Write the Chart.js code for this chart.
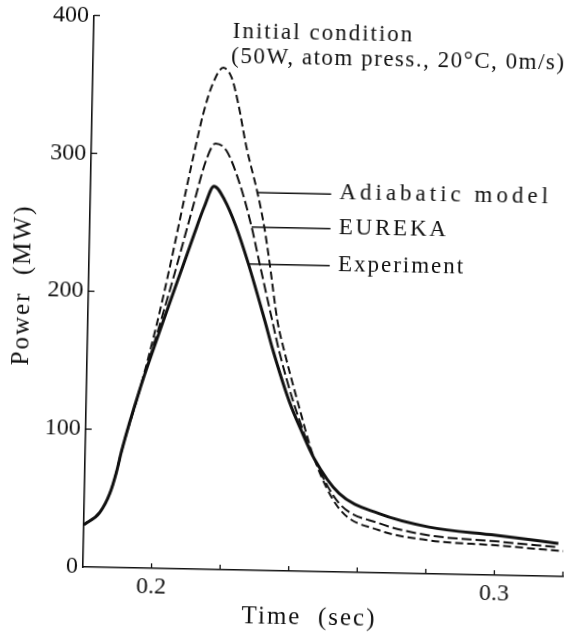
<!DOCTYPE html>
<html>
<head>
<meta charset="utf-8">
<script src="https://cdn.jsdelivr.net/npm/chart.js@4.4.1/dist/chart.umd.min.js"></script>
<style>
  html, body { margin: 0; padding: 0; background: #fff; }
  #wrap { width: 572px; height: 633px; }
  /* a figura original está levemente girada (scan) */
  #grafico { transform: rotate(1.15deg); }
</style>
</head>
<body>
<div id="wrap"><canvas id="grafico" width="572" height="633"></canvas></div>
<script>
// Dados (tempo em s, potência em MW)
const expTempo = [0.18, 0.1846, 0.1874, 0.1892, 0.1906, 0.1956, 0.2018, 0.2073, 0.2105, 0.2133, 0.2160, 0.2192, 0.2225, 0.2265, 0.2315, 0.234, 0.2392, 0.2429, 0.2468, 0.2543, 0.266, 0.2806, 0.3002, 0.3185];
const expPotencia = [30.6, 39.8, 53.6, 69, 84.7, 130, 178, 219, 243, 263, 278, 268, 250, 222, 182, 161, 123, 102, 82, 57, 43, 34, 29, 24];

const eurekaTempo = [0.18, 0.1846, 0.1874, 0.1892, 0.1906, 0.1956, 0.2009, 0.205, 0.2095, 0.2136, 0.2162, 0.2194, 0.2235, 0.2272, 0.2297, 0.2338, 0.236, 0.2405, 0.2468, 0.2543, 0.2661, 0.2807, 0.3002, 0.3185];
const eurekaPotencia = [30.6, 39.8, 53.6, 69, 84.7, 130, 176, 214, 258, 297, 309, 304, 280, 249, 223, 181, 159, 122, 82, 50, 36, 28, 24.6, 21.2];

const adiaTempo = [0.18, 0.1846, 0.1874, 0.1892, 0.1906, 0.1956, 0.2001, 0.2032, 0.2101, 0.2125, 0.215, 0.218, 0.2205, 0.2226, 0.2252, 0.2287, 0.2309, 0.2326, 0.2353, 0.2375, 0.242, 0.2468, 0.2544, 0.2661, 0.2807, 0.3002, 0.32];
const adiaPotencia = [30.6, 39.8, 53.6, 69, 84.7, 130, 177, 214, 303, 331, 352, 364, 357, 338, 307, 274, 249, 224, 181, 159, 120, 82, 46, 31, 24.4, 21.7, 18.4];

// Eixos
const xMarcados = [0.2, 0.3];
const yTicks = [0, 100, 200, 300, 400];

// Legendas com linha de chamada: ponto na curva (t, P)
const chamadas = [
  { texto: "Adiabatic model", t: 0.2287, p: 274, esp: 4 },
  { texto: "EUREKA", t: 0.2272, p: 249, esp: 2.8 },
  { texto: "Experiment", t: 0.2265, p: 222, esp: 2 }
];
const fimChamada = 0.2502;
const inicioTexto = 0.2526;

const condicao = ["Initial condition", "(50W, atom press., 20\u00B0C, 0m/s)"];

const pontos = (ts, ps) => ts.map((t, i) => ({ x: t, y: ps[i] }));

const fonte = '"Liberation Serif", "Times New Roman", serif';

const extras = {
  id: 'extras',
  afterDraw(chart) {
    const { ctx, chartArea: a, scales: { x, y } } = chart;
    ctx.save();
    ctx.strokeStyle = '#111';
    ctx.fillStyle = '#111';

    // marcas de escala para dentro
    ctx.lineWidth = 1.3;
    x.ticks.forEach(tk => {
      if (tk.value <= x.min + 1e-9) return;
      const px = x.getPixelForValue(tk.value);
      ctx.beginPath();
      ctx.moveTo(px, a.bottom);
      ctx.lineTo(px, a.bottom - 5);
      ctx.stroke();
    });
    y.ticks.forEach(tk => {
      if (tk.value === 0) return;
      const py = y.getPixelForValue(tk.value);
      ctx.beginPath();
      ctx.moveTo(a.left, py);
      ctx.lineTo(a.left + 6, py);
      ctx.stroke();
    });

    ctx.letterSpacing = '2px';
    ctx.font = '25px ' + fonte;
    ctx.textBaseline = 'middle';

    // títulos dos eixos
    ctx.textAlign = 'center';
    ctx.fillText('Time  (sec)', a.left + 0.473 * (a.right - a.left), 617);
    ctx.save();
    ctx.translate(22, (a.top + a.bottom) / 2 - 5);
    ctx.rotate(-Math.PI / 2);
    ctx.fillText('Power  (MW)', 0, 0);
    ctx.restore();

    // condição inicial
    ctx.textAlign = 'left';
    ctx.font = '23px ' + fonte;
    ctx.letterSpacing = '2px';
    ctx.fillText(condicao[0], 227, 33);
    ctx.letterSpacing = '1.5px';
    ctx.fillText(condicao[1], 226, 58);

    // linhas de chamada
    ctx.lineWidth = 1.5;
    const xFim = x.getPixelForValue(fimChamada);
    const xTxt = x.getPixelForValue(inicioTexto);
    chamadas.forEach(c => {
      const px = x.getPixelForValue(c.t);
      const py = y.getPixelForValue(c.p);
      ctx.beginPath();
      ctx.moveTo(px, py);
      ctx.lineTo(xFim, py);
      ctx.stroke();
      ctx.letterSpacing = c.esp + 'px';
      ctx.fillText(c.texto, xTxt, py - 1);
    });
    ctx.restore();
  }
};

const ctx = document.getElementById('grafico').getContext('2d');
new Chart(ctx, {
  type: 'line',
  data: {
    datasets: [
      {
        label: 'Adiabatic model',
        data: pontos(adiaTempo, adiaPotencia),
        borderColor: '#111',
        borderWidth: 2,
        borderDash: [8, 4],
        pointRadius: 0,
        cubicInterpolationMode: 'monotone',
        fill: false
      },
      {
        label: 'EUREKA',
        data: pontos(eurekaTempo, eurekaPotencia),
        borderColor: '#111',
        borderWidth: 2,
        borderDash: [10, 4],
        pointRadius: 0,
        cubicInterpolationMode: 'monotone',
        fill: false
      },
      {
        label: 'Experiment',
        data: pontos(expTempo, expPotencia),
        borderColor: '#111',
        borderWidth: 3,
        pointRadius: 0,
        cubicInterpolationMode: 'monotone',
        fill: false
      }
    ]
  },
  options: {
    responsive: false,
    animation: false,
    layout: { padding: { top: 15, right: 2, left: 0, bottom: 0 } },
    plugins: {
      legend: { display: false },
      tooltip: { enabled: false }
    },
    scales: {
      x: {
        type: 'linear',
        min: 0.18,
        max: 0.32,
        grid: { display: false, drawTicks: false },
        border: { display: true, color: '#111', width: 1.6 },
        ticks: {
          stepSize: 0.02,
          autoSkip: false,
          maxRotation: 0,
          padding: 4,
          color: '#111',
          font: { family: fonte, size: 24 },
          callback: v => {
            const r = Math.round(v * 100) / 100;
            return xMarcados.includes(r) ? r.toFixed(1) : '';
          }
        },
        afterFit: s => { s.height = 62; }
      },
      y: {
        min: 0,
        max: 400,
        grid: { display: false, drawTicks: false },
        border: { display: true, color: '#111', width: 1.6 },
        afterBuildTicks: s => { s.ticks = yTicks.map(v => ({ value: v })); },
        ticks: {
          padding: 5,
          color: '#111',
          font: { family: fonte, size: 24 }
        },
        afterFit: s => { s.width = 88; }
      }
    }
  },
  plugins: [extras]
});
</script>
</body>
</html>
